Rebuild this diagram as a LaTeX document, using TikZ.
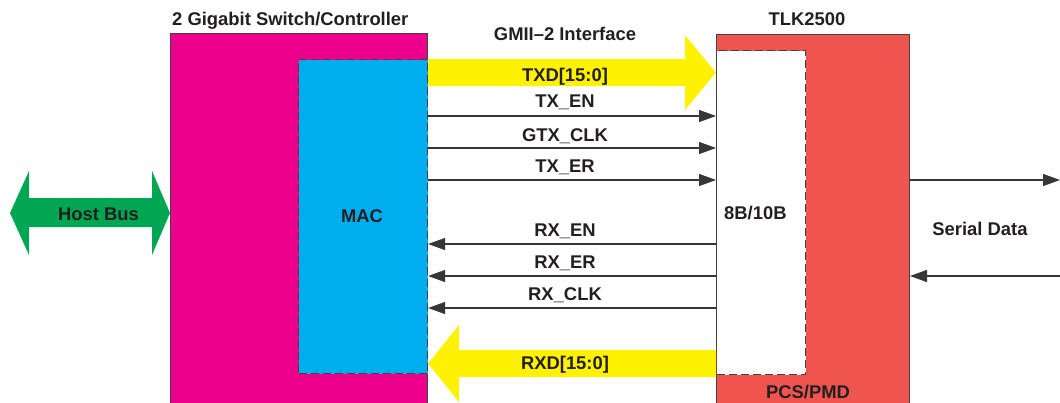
\documentclass[tikz,border=0pt]{standalone}
\usepackage{fontspec}
\setmainfont{Liberation Sans}
\usetikzlibrary{arrows.meta,positioning}
\definecolor{swmag}{HTML}{EC008C}
\definecolor{maccyan}{HTML}{00AEEF}
\definecolor{tlkred}{HTML}{F0544F}
\definecolor{busyellow}{HTML}{FFF200}
\definecolor{hostgreen}{HTML}{00A651}
\definecolor{ink}{HTML}{231F20}
\begin{document}
\begin{tikzpicture}[x=1pt, y=-1pt,
chip/.style={rectangle, draw=ink!85, line width=1pt, inner sep=0pt, anchor=north west},
block/.style={rectangle, draw=ink!85, line width=1.1pt, dash pattern=on 8pt off 4pt, inner sep=0pt, anchor=north west},
txt/.style={font=\fontsize{18.4}{20}\selectfont\bfseries, text=ink, inner sep=0pt, anchor=base},
sig/.style={draw=ink!90, line width=1.1pt, -{Triangle[length=17pt,width=12pt]}}
]
\path[use as bounding box, clip] (0,0) rectangle (1060,402);
\node[chip, fill=swmag, minimum width=257pt, minimum height=400pt] (sw) at (170,33) {};
\node[block, fill=maccyan, minimum width=129pt, minimum height=314pt] (mac) at (298,59) {};
\node[chip, fill=tlkred, minimum width=193pt, minimum height=400pt] (pcs) at (716,34) {};
\node[block, fill=white, minimum width=89pt, minimum height=324pt] (enc) at (716,50) {};
\coordinate (hostL) at (10,213);
\coordinate (edgeR) at (1060,0);
\node[txt, anchor=base west] (swlbl) at (172,25) {2 Gigabit Switch/Controller};
\node[txt] (tlklbl) at (807,25) {TLK2500};
\node[txt] (gmii) at (565,40) {GMII--2 Interface};
\node[txt] (maclbl) at (362,222.5) {MAC};
\node[txt, anchor=base west] (enclbl) at (724,219) {8B/10B};
\node[txt] (pcslbl) at (808,398) {PCS/PMD};
\node[txt] (serlbl) at (980,235) {Serial Data};
\fill[hostgreen] (hostL) -- (29,171) -- (29,198) -- (152,198) -- (152,171) -- (sw.west |- 0,213)
  -- (152,255) -- (152,227) -- (29,227) -- (29,255) -- cycle;
\node[txt] (hostlbl) at (98.5,220) {Host Bus};
\fill[busyellow] (mac.east |- 0,59) -- (685,59) -- (685,35) -- (enc.west |- 0,72.5) -- (685,110)
  -- (685,86) -- (mac.east |- 0,86) -- cycle;
\node[txt] (txd) at (565,81) {TXD[15:0]};
\fill[busyellow] (enc.west |- 0,350) -- (459,350) -- (459,325) -- (mac.east |- 0,363.5) -- (459,402)
  -- (459,377) -- (enc.west |- 0,377) -- cycle;
\node[txt] (rxd) at (565,369) {RXD[15:0]};
\draw[sig] (mac.east |- 0,116) -- (enc.west |- 0,116);
\node[txt] (txen) at (565,107) {TX\_EN};
\draw[sig] (mac.east |- 0,148) -- (enc.west |- 0,148);
\node[txt] (gtxclk) at (565,141) {GTX\_CLK};
\draw[sig] (mac.east |- 0,180) -- (enc.west |- 0,180);
\node[txt] (txer) at (565,172) {TX\_ER};
\draw[sig] (enc.west |- 0,244) -- (mac.east |- 0,244);
\node[txt] (rxen) at (565,236) {RX\_EN};
\draw[sig] (enc.west |- 0,276) -- (mac.east |- 0,276);
\node[txt] (rxer) at (565,268) {RX\_ER};
\draw[sig] (enc.west |- 0,308) -- (mac.east |- 0,308);
\node[txt] (rxclk) at (565,300) {RX\_CLK};
\draw[sig] (pcs.east |- 0,180) -- (edgeR |- 0,180);
\draw[sig] (edgeR |- 0,276) -- (pcs.east |- 0,276);
\end{tikzpicture}
\end{document}
